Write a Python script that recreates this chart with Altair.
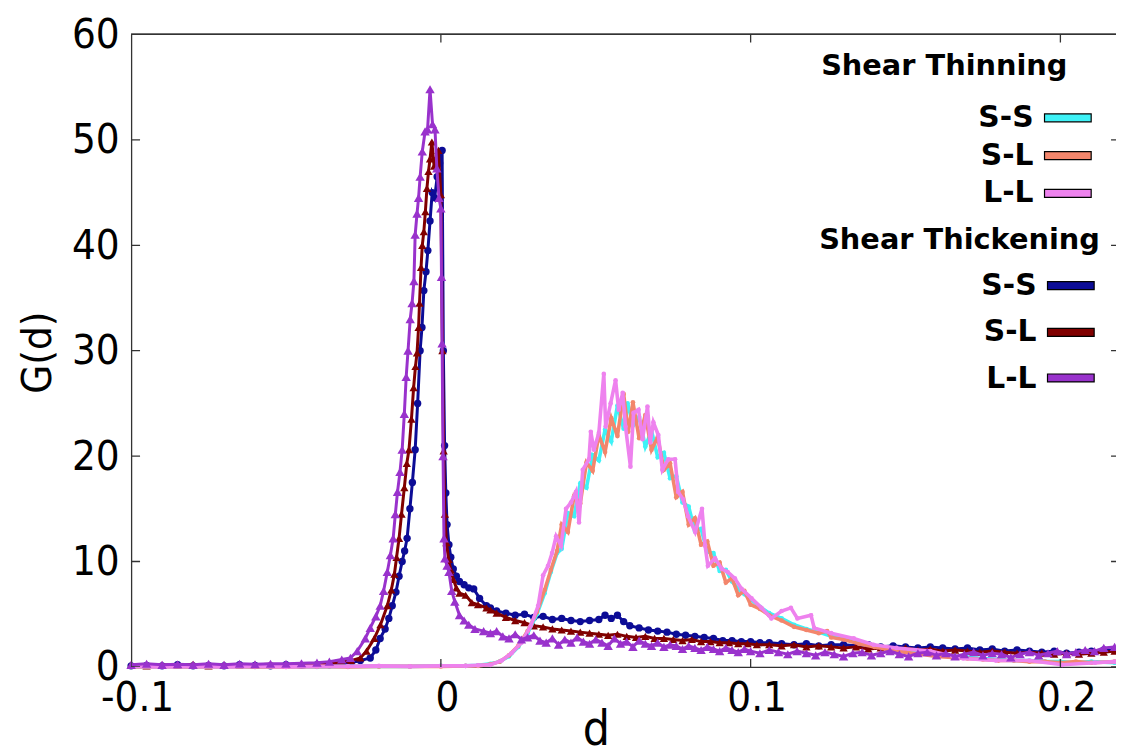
import altair as alt
import pandas as pd

# ---------------- data ----------------
pairs = ["S-S", "S-L", "L-L"]
thin_colors = ["#3ef2f7", "#f3866c", "#ee82ee"]
thick_colors = ["#0c0c96", "#800000", "#9932cc"]
thick_shapes = ["circle", "triangle-up", "triangle-up"]
thick_sizes = [55, 70, 90]

x_ticks = [-0.1, 0.0, 0.1, 0.2]
x_tick_labels = ["-0.1", "0", "0.1", "0.2"]
y_ticks = [0, 10, 20, 30, 40, 50, 60]
x_min, x_max = -0.1, 0.21795
y_min, y_max = 0, 60

# Shear thinning, S-S (cyan)
thin_ss = [(-0.100, 0.0), (-0.090, 0.05), (-0.080, 0.0), (-0.070, 0.05), (-0.060, 0.0), (-0.050, 0.05),
           (-0.040, 0.0), (-0.030, 0.05), (-0.020, 0.05), (-0.010, 0.05), (0.000, 0.1), (0.008, 0.1),
           (0.012, 0.15), (0.016, 0.3), (0.019, 0.5), (0.022, 1.0), (0.025, 1.9), (0.028, 3.2), (0.031, 5.0),
           (0.0335, 7.0), (0.0355, 9.0), (0.0375, 10.8), (0.039, 11.2), (0.041, 14.6), (0.043, 14.3),
           (0.045, 17.4), (0.047, 17.0), (0.049, 20.1), (0.051, 19.6), (0.053, 22.5), (0.055, 21.4),
           (0.057, 24.8), (0.059, 22.6), (0.0603, 25.0), (0.062, 22.9), (0.064, 23.7), (0.066, 20.9),
           (0.068, 22.4), (0.070, 19.9), (0.072, 20.3), (0.074, 17.9), (0.076, 18.1), (0.078, 15.6),
           (0.080, 15.2), (0.082, 12.9), (0.084, 13.1), (0.086, 10.9), (0.088, 10.8), (0.090, 9.1),
           (0.092, 9.2), (0.094, 8.1), (0.096, 7.4), (0.098, 6.9), (0.100, 6.4), (0.103, 5.7), (0.106, 5.1),
           (0.110, 4.6), (0.114, 4.0), (0.118, 3.6), (0.122, 3.3), (0.126, 2.9), (0.130, 2.7), (0.135, 2.3),
           (0.140, 2.0), (0.145, 1.7), (0.150, 1.5), (0.155, 1.3), (0.160, 1.1), (0.165, 1.0), (0.170, 0.9),
           (0.175, 0.8), (0.180, 0.7), (0.185, 0.6), (0.190, 0.6), (0.195, 0.5), (0.200, 0.5), (0.205, 0.4),
           (0.210, 0.5), (0.2175, 0.4)]

# Shear thinning, S-L (salmon)
thin_sl = [(-0.100, 0.0), (-0.090, 0.05), (-0.080, 0.0), (-0.070, 0.05), (-0.060, 0.0), (-0.050, 0.0),
           (-0.040, 0.05), (-0.030, 0.0), (-0.020, 0.05), (-0.010, 0.05), (0.000, 0.05), (0.008, 0.1),
           (0.012, 0.1), (0.016, 0.25), (0.019, 0.5), (0.022, 1.1), (0.025, 2.0), (0.028, 3.4), (0.031, 5.2),
           (0.0335, 7.3), (0.0355, 9.2), (0.0375, 11.0), (0.039, 13.5), (0.041, 12.8), (0.043, 16.2),
           (0.045, 15.5), (0.047, 19.4), (0.049, 18.6), (0.051, 22.0), (0.053, 20.4), (0.055, 23.6),
           (0.057, 21.9), (0.059, 25.9), (0.0605, 22.3), (0.062, 25.1), (0.064, 21.7), (0.066, 23.9),
           (0.068, 20.6), (0.070, 21.8), (0.072, 18.7), (0.074, 19.3), (0.076, 16.1), (0.078, 16.6),
           (0.080, 13.5), (0.082, 14.1), (0.084, 11.6), (0.086, 11.9), (0.088, 9.6), (0.090, 9.9),
           (0.092, 8.0), (0.094, 8.4), (0.096, 6.8), (0.098, 7.2), (0.100, 5.9), (0.103, 5.5), (0.106, 4.9),
           (0.110, 4.4), (0.114, 3.8), (0.118, 3.5), (0.122, 3.2), (0.1247, 3.4), (0.126, 2.8), (0.130, 2.6),
           (0.135, 2.2), (0.140, 1.9), (0.145, 1.6), (0.150, 1.4), (0.155, 1.2), (0.160, 1.0), (0.165, 0.9),
           (0.170, 0.8), (0.175, 0.7), (0.180, 0.6), (0.185, 0.6), (0.190, 0.5), (0.195, 0.5), (0.200, 0.4),
           (0.205, 0.5), (0.210, 0.4), (0.2175, 0.5)]

# Shear thinning, L-L (violet)
thin_ll = [(-0.100, 0.05), (-0.090, 0.0), (-0.080, 0.05), (-0.070, 0.0), (-0.060, 0.05), (-0.050, 0.0),
           (-0.040, 0.05), (-0.030, 0.05), (-0.020, 0.1), (-0.010, 0.05), (0.000, 0.1), (0.008, 0.1),
           (0.012, 0.15), (0.016, 0.2), (0.0196, 0.6), (0.0228, 1.3), (0.026, 2.3), (0.029, 3.9),
           (0.0314, 5.8), (0.033, 8.7), (0.0346, 9.6), (0.0359, 10.8), (0.0372, 12.4), (0.0388, 11.5),
           (0.0404, 15.0), (0.042, 15.6), (0.0436, 16.6), (0.0446, 13.7), (0.0458, 18.7), (0.0478, 19.7),
           (0.0484, 22.3), (0.0494, 20.6), (0.051, 22.2), (0.0526, 27.8), (0.0532, 22.8), (0.0548, 25.0),
           (0.0564, 27.2), (0.0574, 24.4), (0.0587, 26.0), (0.0596, 22.8), (0.0612, 19.0), (0.0622, 24.1),
           (0.0638, 24.4), (0.0651, 21.6), (0.0667, 24.7), (0.0676, 21.3), (0.0686, 23.2), (0.0702, 22.0),
           (0.0715, 18.7), (0.0734, 19.7), (0.0756, 19.7), (0.0766, 16.6), (0.0782, 15.9), (0.0798, 14.3),
           (0.0821, 12.8), (0.0843, 15.0), (0.0853, 11.5), (0.0862, 9.6), (0.0885, 10.3), (0.0907, 9.3),
           (0.0926, 9.0), (0.0949, 8.4), (0.0971, 7.4), (0.1003, 6.5), (0.1035, 5.6), (0.1067, 4.6),
           (0.110, 5.3), (0.113, 5.6), (0.1151, 4.6), (0.1195, 4.9), (0.1205, 3.7), (0.126, 3.2),
           (0.1333, 2.7), (0.1397, 2.1), (0.1471, 1.8), (0.158, 1.5), (0.1686, 0.8), (0.1792, 0.6),
           (0.190, 0.6), (0.2006, 0.2), (0.2112, 0.4), (0.2175, 0.5)]

# Shear thickening, S-S (navy)
thick_ss = [(-0.100, 0.1), (-0.095, 0.15), (-0.090, 0.1), (-0.085, 0.2), (-0.080, 0.1), (-0.075, 0.15),
            (-0.070, 0.1), (-0.065, 0.2), (-0.060, 0.15), (-0.055, 0.1), (-0.050, 0.2), (-0.045, 0.15),
            (-0.040, 0.2), (-0.036, 0.2), (-0.032, 0.3), (-0.029, 0.4), (-0.026, 0.6), (-0.0228, 0.85),
            (-0.021, 1.6), (-0.0196, 2.7), (-0.018, 3.6), (-0.0168, 4.6), (-0.0157, 5.8), (-0.0145, 7.1),
            (-0.0135, 8.6), (-0.0125, 10.0), (-0.0117, 11.0), (-0.0109, 12.2), (-0.0100, 15.0),
            (-0.0092, 17.5), (-0.0083, 20.6), (-0.0075, 25.0), (-0.0067, 30.0), (-0.0061, 32.2),
            (-0.0055, 35.7), (-0.0048, 37.5), (-0.0042, 39.5), (-0.0035, 42.3), (-0.0028, 45.0),
            (-0.0020, 44.5), (-0.0012, 46.5), (-0.0004, 47.8), (0.0004, 49.0), (0.0008, 30.0),
            (0.0012, 21.0), (0.0016, 16.5), (0.0020, 13.5), (0.0026, 11.6), (0.0032, 10.4), (0.0040, 9.3),
            (0.0050, 8.6), (0.0060, 8.1), (0.0075, 7.8), (0.0090, 7.5), (0.0106, 7.4), (0.0125, 6.5),
            (0.0147, 5.8), (0.016, 5.6), (0.018, 5.3), (0.021, 5.1), (0.024, 4.9), (0.027, 5.0), (0.030, 4.7),
            (0.033, 4.8), (0.036, 4.5), (0.039, 4.6), (0.042, 4.4), (0.045, 4.3), (0.048, 4.4), (0.051, 4.5),
            (0.053, 4.9), (0.055, 4.6), (0.057, 4.9), (0.059, 4.3), (0.061, 3.9), (0.064, 3.7), (0.067, 3.5),
            (0.070, 3.4), (0.073, 3.3), (0.076, 3.1), (0.079, 3.0), (0.082, 2.9), (0.085, 2.8), (0.088, 2.7),
            (0.091, 2.5), (0.094, 2.5), (0.097, 2.4), (0.100, 2.4), (0.103, 2.3), (0.106, 2.3), (0.110, 2.2),
            (0.114, 2.1), (0.118, 2.2), (0.122, 2.0), (0.126, 2.1), (0.130, 2.1), (0.134, 2.0), (0.138, 2.1),
            (0.142, 1.9), (0.146, 2.0), (0.150, 1.9), (0.154, 1.8), (0.158, 1.9), (0.162, 1.8), (0.166, 1.7),
            (0.170, 1.8), (0.174, 1.6), (0.178, 1.7), (0.182, 1.5), (0.186, 1.6), (0.190, 1.5), (0.194, 1.4),
            (0.198, 1.5), (0.202, 1.3), (0.206, 1.4), (0.210, 1.5), (0.214, 1.6), (0.2175, 1.6)]

# Shear thickening, S-L (dark red)
thick_sl = [(-0.100, 0.2), (-0.095, 0.1), (-0.090, 0.2), (-0.085, 0.15), (-0.080, 0.25), (-0.075, 0.1),
            (-0.070, 0.2), (-0.065, 0.15), (-0.060, 0.2), (-0.055, 0.25), (-0.050, 0.15), (-0.045, 0.2),
            (-0.040, 0.25), (-0.036, 0.3), (-0.032, 0.45), (-0.029, 0.6), (-0.026, 0.85), (-0.024, 1.5),
            (-0.0215, 2.7), (-0.0195, 4.0), (-0.0173, 5.8), (-0.016, 7.3), (-0.015, 8.8), (-0.0143, 10.4),
            (-0.0135, 12.2), (-0.0127, 14.5), (-0.0118, 17.0), (-0.0110, 19.3), (-0.0103, 20.6),
            (-0.0095, 23.5), (-0.0088, 26.5), (-0.0082, 28.5), (-0.0077, 29.8), (-0.0072, 32.2),
            (-0.0069, 34.5), (-0.0064, 37.9), (-0.0060, 40.0), (-0.0055, 41.3), (-0.0050, 43.2),
            (-0.0045, 45.4), (-0.0040, 47.0), (-0.0035, 48.2), (-0.0029, 49.8), (-0.0022, 47.5),
            (-0.0015, 48.3), (-0.0008, 49.0), (0.0000, 44.8), (0.0005, 30.0), (0.0009, 20.5), (0.0013, 14.5),
            (0.0018, 11.8), (0.0025, 10.2), (0.0032, 9.2), (0.0040, 8.3), (0.0050, 7.5), (0.0060, 7.0),
            (0.0080, 6.8), (0.0100, 6.1), (0.0120, 5.9), (0.0147, 5.6), (0.016, 5.4), (0.018, 5.1),
            (0.021, 4.7), (0.024, 4.4), (0.027, 4.2), (0.030, 3.9), (0.033, 3.8), (0.036, 3.6), (0.039, 3.5),
            (0.042, 3.4), (0.045, 3.3), (0.048, 3.2), (0.051, 3.1), (0.054, 3.0), (0.057, 3.1), (0.060, 2.9),
            (0.063, 2.8), (0.066, 2.9), (0.069, 2.7), (0.072, 2.7), (0.075, 2.6), (0.078, 2.5), (0.081, 2.6),
            (0.084, 2.4), (0.087, 2.4), (0.090, 2.3), (0.093, 2.3), (0.096, 2.2), (0.099, 2.2), (0.102, 2.1),
            (0.106, 2.1), (0.110, 2.0), (0.114, 2.1), (0.118, 1.9), (0.122, 2.0), (0.126, 1.9), (0.130, 1.8),
            (0.134, 1.9), (0.138, 1.7), (0.142, 1.8), (0.146, 1.7), (0.150, 1.8), (0.154, 1.6), (0.158, 1.7),
            (0.162, 1.5), (0.166, 1.6), (0.170, 1.5), (0.174, 1.4), (0.178, 1.5), (0.182, 1.4), (0.186, 1.3),
            (0.190, 1.4), (0.194, 1.3), (0.198, 1.2), (0.202, 1.3), (0.206, 1.2), (0.210, 1.3), (0.214, 1.4),
            (0.2175, 1.5)]

# Shear thickening, L-L (purple)
thick_ll = [(-0.100, 0.2), (-0.095, 0.3), (-0.090, 0.2), (-0.085, 0.25), (-0.080, 0.2), (-0.075, 0.3),
            (-0.070, 0.2), (-0.065, 0.3), (-0.060, 0.25), (-0.055, 0.3), (-0.050, 0.3), (-0.045, 0.35),
            (-0.040, 0.4), (-0.036, 0.5), (-0.032, 0.7), (-0.0292, 0.85), (-0.027, 1.5), (-0.0244, 2.7),
            (-0.0228, 3.7), (-0.021, 4.8), (-0.0196, 5.8), (-0.0185, 7.2), (-0.0173, 9.0), (-0.0163, 10.6),
            (-0.0154, 12.2), (-0.0147, 14.5), (-0.0140, 16.6), (-0.0132, 18.5), (-0.0125, 20.6),
            (-0.0118, 24.0), (-0.0112, 27.5), (-0.0106, 30.0), (-0.0099, 33.0), (-0.0093, 34.5),
            (-0.0087, 36.6), (-0.0083, 41.0), (-0.0077, 43.0), (-0.0072, 44.5), (-0.0067, 46.5),
            (-0.0060, 48.9), (-0.0051, 50.8), (-0.0043, 51.0), (-0.0035, 54.8), (-0.0027, 51.5),
            (-0.0019, 51.0), (-0.0013, 47.3), (-0.0006, 44.5), (0.0000, 43.5), (0.0002, 37.0), (0.0004, 30.7),
            (0.0007, 20.0), (0.0010, 12.2), (0.0013, 10.3), (0.0020, 9.6), (0.0026, 9.0), (0.0035, 7.2),
            (0.0045, 6.2), (0.0060, 4.9), (0.0075, 4.4), (0.0090, 4.0), (0.0110, 3.6), (0.0138, 3.4),
            (0.016, 3.2), (0.018, 3.4), (0.020, 2.9), (0.022, 2.7), (0.024, 3.1), (0.026, 2.6), (0.028, 2.8),
            (0.030, 3.0), (0.032, 2.5), (0.034, 2.3), (0.036, 2.7), (0.038, 2.1), (0.040, 2.6), (0.042, 2.3),
            (0.044, 2.8), (0.046, 2.4), (0.048, 2.2), (0.050, 2.6), (0.052, 2.3), (0.054, 2.0), (0.056, 2.7),
            (0.058, 2.2), (0.060, 2.4), (0.062, 1.9), (0.064, 2.5), (0.066, 2.2), (0.068, 2.0), (0.070, 2.3),
            (0.072, 1.9), (0.074, 2.1), (0.076, 2.0), (0.078, 1.7), (0.080, 2.0), (0.082, 1.8), (0.084, 1.6),
            (0.086, 1.9), (0.088, 1.7), (0.090, 1.5), (0.092, 1.8), (0.094, 1.6), (0.096, 1.4), (0.098, 1.7),
            (0.100, 1.5), (0.103, 1.3), (0.106, 1.6), (0.109, 1.4), (0.112, 1.2), (0.115, 1.5), (0.118, 1.3),
            (0.121, 1.1), (0.124, 1.4), (0.127, 1.2), (0.130, 1.0), (0.133, 1.3), (0.136, 1.4), (0.139, 1.1),
            (0.142, 1.3), (0.145, 1.5), (0.148, 1.2), (0.151, 1.0), (0.154, 1.3), (0.157, 1.4), (0.160, 1.1),
            (0.163, 1.3), (0.166, 1.0), (0.169, 1.2), (0.172, 1.4), (0.175, 1.1), (0.178, 1.3), (0.181, 1.2),
            (0.184, 0.9), (0.187, 1.2), (0.190, 1.4), (0.193, 1.1), (0.196, 1.3), (0.199, 1.5), (0.202, 1.2),
            (0.205, 1.4), (0.208, 1.6), (0.211, 1.5), (0.214, 1.8), (0.2175, 1.9)]

# legend keys: thickening keys carry a trailing space (collapsed when drawn) so the two
# colour scales keep distinct domains and Vega-Lite draws two separate legends
thin_keys = pairs
thick_keys = [p + " " for p in pairs]


def to_df(points, key_col, key):
    return pd.DataFrame({"d": [p[0] for p in points], "G": [p[1] for p in points], key_col: key})


thin_series = [thin_ss, thin_sl, thin_ll]
thick_series = [thick_ss, thick_sl, thick_ll]
thin_dfs = [to_df(s, "thin", k) for s, k in zip(thin_series, thin_keys)]
thick_dfs = [to_df(s, "thick", k) for s, k in zip(thick_series, thick_keys)]
xtick_df = pd.DataFrame({"v": x_ticks})
ytick_df = pd.DataFrame({"v": y_ticks})
one_row = pd.DataFrame({"k": [0]})

# ---------------- styling ----------------
AX_FONT = "DejaVu Sans Condensed, DejaVu Sans"
LEG_FONT = "DejaVu Sans"
FRAME = "#333333"

label_expr = "''"
for v, lab in zip(reversed(x_ticks), reversed(x_tick_labels)):
    label_expr = f"abs(datum.value - ({v})) < 1e-9 ? '{lab}' : ({label_expr})"

x_axis = alt.Axis(values=x_ticks, labelExpr=label_expr, title="d", grid=False,
                  domain=True, domainColor=FRAME, domainWidth=1.3, ticks=False, tickSize=0,
                  labelPadding=11, labelFont=AX_FONT, labelFontSize=42, labelColor="black",
                  labelFlush=False, labelOverlap=False, labelOffset=6,
                  titleFont=AX_FONT, titleFontSize=48, titleFontWeight="normal", titleColor="black",
                  titleX=468, titleY=40, titleBaseline="top")
y_axis = alt.Axis(values=y_ticks, format="d", title="G(d)", grid=False,
                  domain=True, domainColor=FRAME, domainWidth=1.3, ticks=False, tickSize=0,
                  labelPadding=12, labelFont=AX_FONT, labelFontSize=42, labelColor="black",
                  labelFlush=False, labelOverlap=False,
                  titleFont=AX_FONT, titleFontSize=42, titleFontWeight="normal", titleColor="black",
                  titleAngle=270, titleX=-94, titleY=320, titleAlign="center", titleBaseline="middle")

xs = alt.Scale(domain=[x_min, x_max], nice=False, zero=False)
ys = alt.Scale(domain=[y_min, y_max], nice=False, zero=False)

X = alt.X("d:Q", scale=xs, axis=x_axis)
Y = alt.Y("G:Q", scale=ys, axis=y_axis)

SYMBOL = "M-1,0H1"


def make_legend(title, keys, lx, ly, row_pad, title_pad, sym_off, lab_off):
    return alt.Legend(
        title=title, orient="none", legendX=lx, legendY=ly, padding=0,
        titleFont=LEG_FONT, titleFontSize=29, titleFontWeight="bold", titleColor="black",
        titleLimit=500,
        labelFont=LEG_FONT, labelFontSize=30, labelFontWeight="bold", labelColor="black",
        labelAlign="right", labelOffset={"expr": str(lab_off)}, symbolOffset=sym_off, labelLimit=300,
        symbolType=SYMBOL, symbolSize=2209, symbolStrokeWidth=8, symbolOpacity=0,
        clipHeight=30, rowPadding=row_pad, titlePadding=title_pad, values=keys,
    )


thin_legend = make_legend("Shear Thinning", thin_keys, 695, 18, 7.5, 22.5, 225, -66)
thick_legend = make_legend("Shear Thickening", thick_keys, 693, 193, 17, 16, 230, -66)

thin_color = alt.Color("thin:N", scale=alt.Scale(domain=thin_keys, range=thin_colors), legend=thin_legend)
thick_stroke = alt.Stroke("thick:N", scale=alt.Scale(domain=thick_keys, range=thick_colors),
                          legend=thick_legend)
LW = alt.value(3)

# legend swatch boxes (pixel layout inside the plot area, next to the legend labels)
thin_swatch_x = (920, 967)
thin_swatch_y = [84, 122, 160]
thick_swatch_x = (923, 970)
thick_swatch_y = [253, 300, 346]
SWATCH_H = 8


def swatch(color, xr, yc):
    return alt.Chart(one_row).mark_rect(color=color, stroke="black", strokeWidth=1.2, opacity=1).encode(
        x=alt.value(xr[0]), x2=alt.value(xr[1]),
        y=alt.value(yc - SWATCH_H / 2), y2=alt.value(yc + SWATCH_H / 2))


def thick_line(i):
    return alt.Chart(thick_dfs[i]).mark_line().encode(x=X, y=Y, stroke=thick_stroke, strokeWidth=LW)


def thick_points(i):
    return alt.Chart(thick_dfs[i]).mark_point(
        filled=True, opacity=1, color=thick_colors[i], shape=thick_shapes[i], size=thick_sizes[i]
    ).encode(x=X, y=Y)


def thin_line(i):
    return alt.Chart(thin_dfs[i]).mark_line().encode(x=X, y=Y, color=thin_color, strokeWidth=alt.value(3.6))


def thin_points(i):
    return alt.Chart(thin_dfs[i]).mark_point(filled=True, opacity=1, color=thin_colors[i], size=22).encode(
        x=X, y=Y)


top_border = alt.Chart(xtick_df).mark_rule(color=FRAME, strokeWidth=1.3).encode(
    x=alt.X(datum=x_min, scale=xs, axis=x_axis), x2=alt.X2(datum=x_max),
    y=alt.Y(datum=y_max, scale=ys, axis=y_axis))
xt_bottom = alt.Chart(xtick_df).mark_tick(orient="vertical", size=16, thickness=1.3, color=FRAME,
                                          clip=True, opacity=1).encode(
    x=alt.X("v:Q", scale=xs, axis=x_axis), y=alt.Y(datum=y_min, scale=ys, axis=y_axis))
xt_top = alt.Chart(xtick_df).mark_tick(orient="vertical", size=16, thickness=1.3, color=FRAME,
                                       clip=True, opacity=1).encode(
    x=alt.X("v:Q", scale=xs, axis=x_axis), y=alt.Y(datum=y_max, scale=ys, axis=y_axis))
yt_left = alt.Chart(ytick_df).mark_tick(orient="horizontal", size=18, thickness=1.3, color=FRAME,
                                        clip=True, opacity=1).encode(
    y=alt.Y("v:Q", scale=ys, axis=y_axis), x=alt.X(datum=x_min, scale=xs, axis=x_axis))
yt_right = alt.Chart(ytick_df).mark_tick(orient="horizontal", size=10, thickness=1.3, color=FRAME,
                                         clip=True, opacity=1).encode(
    y=alt.Y("v:Q", scale=ys, axis=y_axis), x=alt.X(datum=x_max, scale=xs, axis=x_axis))

swatches = [swatch(c, thin_swatch_x, y) for c, y in zip(thin_colors, thin_swatch_y)] + \
           [swatch(c, thick_swatch_x, y) for c, y in zip(thick_colors, thick_swatch_y)]

chart = alt.layer(
    thick_line(0), thick_points(0), thick_line(1), thick_points(1),
    thin_line(0), thin_points(0), thin_line(1), thin_points(1), thin_line(2), thin_points(2),
    thick_line(2), thick_points(2),
    top_border, xt_bottom, xt_top, yt_left, yt_right,
    *swatches,
).properties(
    width=992, height=637,
    autosize=alt.AutoSizeParams(type="none"),
    padding={"left": 124, "top": 24, "right": 0, "bottom": 78},
    background="white",
).configure_view(stroke=None)

chart.save("out.html", embed_options={"renderer": "svg", "actions": False})
